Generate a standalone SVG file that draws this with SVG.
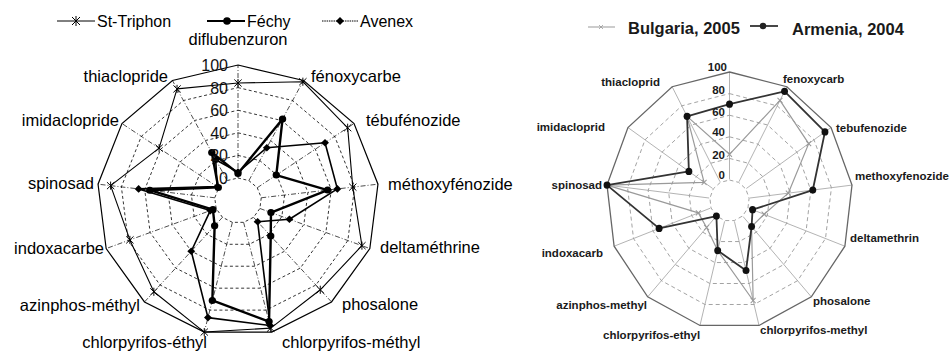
<svg xmlns="http://www.w3.org/2000/svg" xmlns:xlink="http://www.w3.org/1999/xlink" width="949" height="356" viewBox="0 0 949 356">
<style>
.lbl{font-family:"Liberation Sans",Arial,sans-serif;font-size:16.5px;fill:#000}
.tick{font-family:"Liberation Sans",Arial,sans-serif;font-size:16px;fill:#111}
.rlbl{font-family:"Liberation Sans",Arial,sans-serif;font-size:11.5px;font-weight:bold;fill:#1a1a1a}
.rleg{font-family:"Liberation Sans",Arial,sans-serif;font-size:16.5px;font-weight:bold;fill:#1a1a1a}
.ns{vector-effect:non-scaling-stroke}
.lring{fill:none;stroke:#000;stroke-width:0.8;stroke-dasharray:3 2.5}
.lout{fill:none;stroke:#000;stroke-width:1.2}
.lax{fill:none;stroke:#000;stroke-width:0.7;stroke-dasharray:5 2 1 2}
.rring{fill:none;stroke:#999;stroke-width:0.9;stroke-dasharray:4 3}
.rout{fill:none;stroke:#666;stroke-width:1.3}
.rax{fill:none;stroke:#aaa;stroke-width:0.9}
</style>
<defs>
<polygon id="p13" class="ns" points="0,-100 46.472,-88.546 82.298,-56.806 99.271,-12.054 93.502,35.46 66.312,74.851 23.932,97.094 -23.932,97.094 -66.312,74.851 -93.502,35.46 -99.271,-12.054 -82.298,-56.806 -46.472,-88.546"/>
<path id="axes" class="ns" d="M0,-16.6V-100M7.71,-14.7L46.47,-88.55M13.66,-9.43L82.3,-56.81M16.48,-2L99.27,-12.05M15.52,5.89L93.5,35.46M11.01,12.43L66.31,74.85M3.97,16.12L23.93,97.09M-3.97,16.12L-23.93,97.09M-11.01,12.43L-66.31,74.85M-15.52,5.89L-93.5,35.46M-16.48,-2L-99.27,-12.05M-13.66,-9.43L-82.3,-56.81M-7.71,-14.7L-46.47,-88.55"/>
<marker id="mAst" markerUnits="userSpaceOnUse" overflow="visible" markerWidth="8" markerHeight="8" refX="0" refY="0"><path d="M-2.6,-2.6L2.6,2.6M-2.6,2.6L2.6,-2.6M0,-3V3" stroke="#000" stroke-width="0.7" fill="none"/></marker>
<marker id="mDot" markerUnits="userSpaceOnUse" overflow="visible" markerWidth="8" markerHeight="8" refX="0" refY="0"><circle r="2.6" fill="#000"/></marker>
<marker id="mDia" markerUnits="userSpaceOnUse" overflow="visible" markerWidth="8" markerHeight="8" refX="0" refY="0"><path d="M0,-2.8L2.8,0L0,2.8L-2.8,0Z" fill="#000"/></marker>
<marker id="mRDot" markerUnits="userSpaceOnUse" overflow="visible" markerWidth="8" markerHeight="8" refX="0" refY="0"><circle r="2.8" fill="#111"/></marker>
<marker id="mRX" markerUnits="userSpaceOnUse" overflow="visible" markerWidth="8" markerHeight="8" refX="0" refY="0"><path d="M-2,-2L2,2M-2,2L2,-2" stroke="#999" stroke-width="0.8" fill="none"/></marker>
</defs>

<g id="legend-left">
<line x1="57" y1="21" x2="95" y2="21" stroke="#000" stroke-width="1"/>
<path d="M72,17L80,25M72,25L80,17M76,16V26" stroke="#000" stroke-width="1" fill="none"/>
<text class="lbl" x="97" y="26.5" style="font-size:16px">St-Triphon</text>
<line x1="207" y1="21" x2="245" y2="21" stroke="#000" stroke-width="2.2"/>
<circle cx="227" cy="21" r="3.8" fill="#000"/>
<text class="lbl" x="247" y="26.5" style="font-size:16px">Féchy</text>
<line x1="322" y1="21" x2="358" y2="21" stroke="#000" stroke-width="1" stroke-dasharray="1.5 0.8"/>
<path d="M340,17L344,21L340,25L336,21Z" fill="#000"/>
<text class="lbl" x="360" y="26.5" style="font-size:16px">Avenex</text>
</g>

<g id="chart-left" transform="translate(238,200.5) scale(1.41,1.355)">
<g id="grid-left">
<use href="#p13" class="lring" transform="scale(0.166)"/>
<use href="#p13" class="lring" transform="scale(0.3328)"/>
<use href="#p13" class="lring" transform="scale(0.4996)"/>
<use href="#p13" class="lring" transform="scale(0.6664)"/>
<use href="#p13" class="lring" transform="scale(0.8332)"/>
<use href="#p13" class="lout"/>
<use href="#axes" class="lax"/>
</g>
<g id="connectors-left" fill="none" stroke="#000" stroke-linejoin="round">
<polygon id="st-triphon" class="ns" stroke-width="1.1" marker-start="url(#mAst)" marker-mid="url(#mAst)" points="0,-86.7 46,-87.66 77.77,-53.68 81.4,-9.88 87.89,33.33 58.35,65.87 23.21,94.18 -23.93,97.09 -59.68,67.37 -76.67,29.08 -90.34,-10.97 -55.96,-38.63 -43.22,-82.35"/>
<polygon id="avenex" class="ns" stroke-width="1.6" marker-start="url(#mDia)" marker-mid="url(#mDia)" points="0,-21 20.45,-38.96 61.72,-42.6 70.48,-8.56 36.47,13.83 13.93,15.72 22.74,92.24 -21.3,86.41 -33.16,37.43 -19.64,7.45 -70.48,-8.56 -14.81,-10.23 -15.8,-30.11"/>
<polygon id="fechy" class="ns" stroke-width="2.4" marker-start="url(#mDot)" marker-mid="url(#mDot)" points="0,-20 31.6,-60.21 27.16,-18.75 63.53,-7.71 23.38,8.87 23.21,26.2 22.02,89.33 -18.19,73.79 -16.58,18.71 -17.77,6.74 -62.54,-7.59 -13.99,-9.66 -18.59,-35.42"/>
</g>
</g>

<g id="ticks-left">
<text class="tick" text-anchor="end" x="228" y="71">100</text>
<text class="tick" text-anchor="end" x="228" y="93.6">80</text>
<text class="tick" text-anchor="end" x="228" y="116.2">60</text>
<text class="tick" text-anchor="end" x="228" y="138.8">40</text>
<text class="tick" text-anchor="end" x="228" y="161.4">20</text>
<text class="tick" text-anchor="end" x="228" y="184">0</text>
</g>
<g id="labels-left">
<text class="lbl" text-anchor="middle" x="238" y="45">diflubenzuron</text>
<text class="lbl" text-anchor="end" x="168" y="82">thiaclopride</text>
<text class="lbl" x="311" y="82">fénoxycarbe</text>
<text class="lbl" text-anchor="end" x="119" y="126">imidaclopride</text>
<text class="lbl" x="366" y="126">tébufénozide</text>
<text class="lbl" text-anchor="end" x="94" y="189">spinosad</text>
<text class="lbl" x="388" y="190">méthoxyfénozide</text>
<text class="lbl" text-anchor="end" x="104" y="254">indoxacarbe</text>
<text class="lbl" x="380" y="253">deltaméthrine</text>
<text class="lbl" text-anchor="end" x="140" y="311">azinphos-méthyl</text>
<text class="lbl" x="342" y="310">phosalone</text>
<text class="lbl" text-anchor="end" x="207" y="348">chlorpyrifos-éthyl</text>
<text class="lbl" x="282" y="348">chlorpyrifos-méthyl</text>
</g>

<g id="legend-right">
<line x1="588" y1="27" x2="615" y2="27" stroke="#aaa" stroke-width="1.2"/>
<path d="M599,25L603,29M599,29L603,25" stroke="#999" stroke-width="0.8"/>
<text class="rleg" x="628" y="33.5">Bulgaria, 2005</text>
<line x1="750" y1="26" x2="778" y2="26" stroke="#333" stroke-width="1.8"/>
<circle cx="763" cy="26" r="3.2" fill="#222"/>
<text class="rleg" x="792" y="35">Armenia, 2004</text>
</g>

<g id="chart-right" transform="translate(729.5,200.6) scale(1.234,1.286)">
<g id="grid-right">
<use href="#axes" class="rax"/>
<use href="#p13" class="rring" transform="scale(0.16)"/>
<use href="#p13" class="rring" transform="scale(0.328)"/>
<use href="#p13" class="rring" transform="scale(0.496)"/>
<use href="#p13" class="rring" transform="scale(0.664)"/>
<use href="#p13" class="rring" transform="scale(0.832)"/>
<use href="#p13" class="rout"/>
</g>
<g id="connectors-right" fill="none" stroke-linejoin="round">
<polygon id="bulgaria" class="ns" stroke="#9a9a9a" stroke-width="1.2" marker-start="url(#mRX)" marker-mid="url(#mRX)" points="0,-36 40.9,-77.92 64.19,-44.31 47.65,-5.79 28.05,10.64 17.9,20.21 19.15,77.68 -9.57,38.84 -18.57,20.96 -25.25,9.57 -99.27,-12.05 -20.57,-14.2 -34.39,-65.52"/>
<polygon id="armenia" class="ns" stroke="#333" stroke-width="1.8" marker-start="url(#mRDot)" marker-mid="url(#mRDot)" points="0,-75 44.61,-85 77.36,-53.4 67.5,-8.2 18.7,7.09 17.9,20.21 13.4,54.37 -9.57,38.84 -10.61,11.98 -57.04,21.63 -99.27,-12.05 -32.92,-22.72 -34.39,-65.52"/>
</g>
</g>

<g id="ticks-right">
<text class="rlbl" text-anchor="end" x="727" y="71">100</text>
<text class="rlbl" text-anchor="end" x="725" y="94">80</text>
<text class="rlbl" text-anchor="end" x="725" y="116">60</text>
<text class="rlbl" text-anchor="end" x="725" y="136">40</text>
<text class="rlbl" text-anchor="end" x="725" y="159">20</text>
<text class="rlbl" text-anchor="end" x="725" y="179">0</text>
</g>
<g id="labels-right">
<text class="rlbl" text-anchor="end" x="660" y="86">thiacloprid</text>
<text class="rlbl" x="783" y="83">fenoxycarb</text>
<text class="rlbl" text-anchor="end" x="605" y="131">imidacloprid</text>
<text class="rlbl" x="836" y="132">tebufenozide</text>
<text class="rlbl" text-anchor="end" x="602" y="189">spinosad</text>
<text class="rlbl" x="855" y="180">methoxyfenozide</text>
<text class="rlbl" text-anchor="end" x="603" y="257">indoxacarb</text>
<text class="rlbl" x="850" y="242">deltamethrin</text>
<text class="rlbl" text-anchor="end" x="647" y="309">azinphos-methyl</text>
<text class="rlbl" x="813" y="305">phosalone</text>
<text class="rlbl" x="603" y="339">chlorpyrifos-ethyl</text>
<text class="rlbl" x="760" y="334">chlorpyrifos-methyl</text>
</g>
</svg>
